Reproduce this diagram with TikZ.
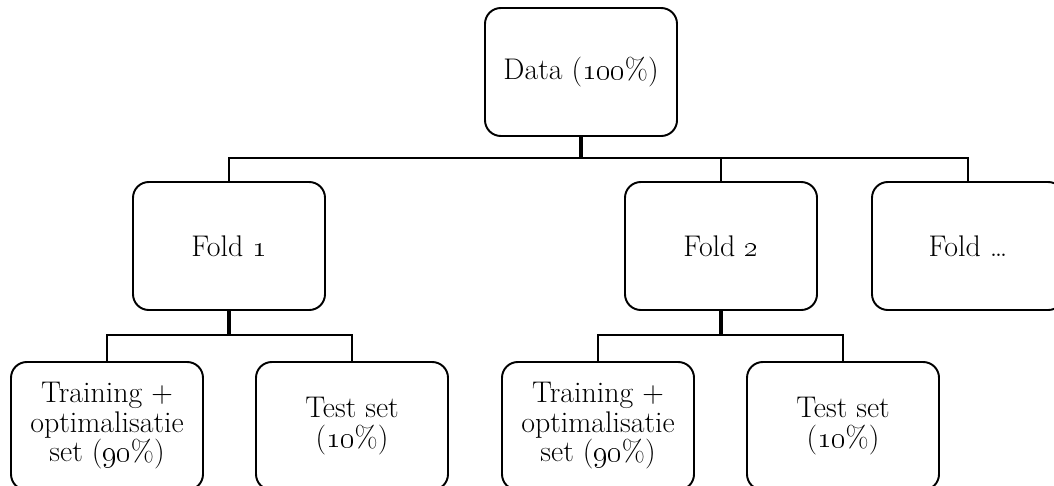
\documentclass[tikz,border=0pt]{standalone}
\usepackage{tikz}

\tikzset{
  blok/.style={draw, line width=1.1pt, rounded corners=9pt, minimum width=3.84cm,
    minimum height=2.56cm, align=center, inner sep=2pt,
    font=\fontsize{17}{16.8}\selectfont},
  tak/.style={line width=1.1pt},
  stam/.style={line width=2.2pt}
}
\newcommand{\os}[1]{\oldstylenums{#1}}

\begin{document}
\begin{tikzpicture}
  \useasboundingbox (0,0) rectangle (21.08,-9.70);
  % Top level
  \node[blok] (data) at (11.62,-1.44) {Data (\os{100}\%)};
  % Folds
  \node[blok] (fold1) at (4.58,-4.92) {Fold \os{1}};
  \node[blok] (fold2) at (14.42,-4.92) {Fold \os{2}};
  \node[blok] (foldN) at (19.36,-4.92) {Fold \dots};
  % Splits per fold
  \node[blok] (train1) at (2.14,-8.52) {Training +\\optimalisatie\\set (\os{90}\%)};
  \node[blok] (test1) at (7.04,-8.52) {Test set\\(\os{10}\%)};
  \node[blok] (train2) at (11.96,-8.52) {Training +\\optimalisatie\\set (\os{90}\%)};
  \node[blok] (test2) at (16.86,-8.52) {Test set\\(\os{10}\%)};
  % Junctions
  \coordinate (splitA) at (data.south |- 0,-3.16);
  \coordinate (split1) at (fold1.south |- 0,-6.70);
  \coordinate (split2) at (fold2.south |- 0,-6.70);
  % Connectors
  \draw[stam] (data.south) -- (splitA);
  \draw[tak] (fold1.north) |- (splitA) -| (foldN.north);
  \draw[tak] (fold2.north) -- (fold2.north |- splitA);
  \draw[stam] (fold1.south) -- (split1);
  \draw[tak] (train1.north) |- (split1) -| (test1.north);
  \draw[stam] (fold2.south) -- (split2);
  \draw[tak] (train2.north) |- (split2) -| (test2.north);
\end{tikzpicture}
\end{document}
